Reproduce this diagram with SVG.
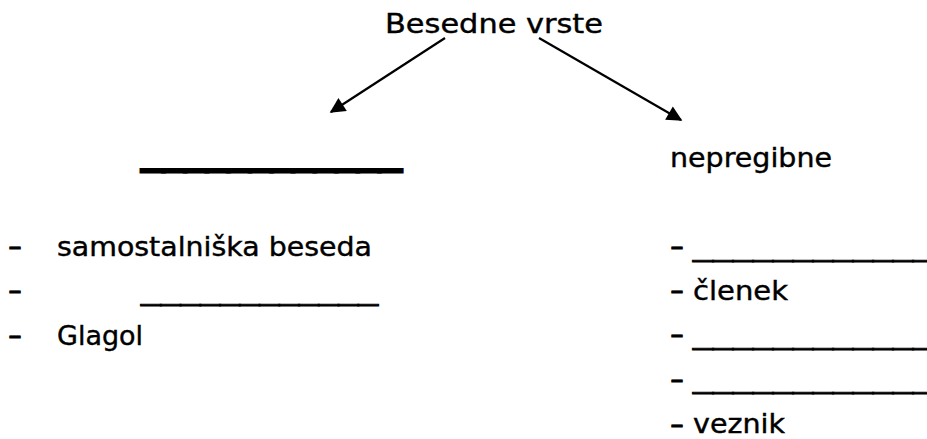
<svg xmlns="http://www.w3.org/2000/svg" width="927" height="439" viewBox="0 0 927 439">
<style>
  text { font-family: "DejaVu Sans", "Liberation Sans", sans-serif; font-size: 26px; fill: #000; stroke: #000; stroke-width: 0.4px; }
  .dash { stroke-width: 0.9px; }
  .blank { stroke-width: 0.9px; }
  .thick { font-weight: bold; stroke-width: 3px; }
  .conn { stroke: #000; stroke-width: 2.2; fill: none; marker-end: url(#ah); }
</style>
<defs>
  <marker id="ah" viewBox="0 0 10 10" refX="9" refY="5" markerWidth="8.5" markerHeight="7" markerUnits="strokeWidth" orient="auto">
    <path d="M0,0 L10,5 L0,10 z" fill="#000"/>
  </marker>
</defs>
<rect width="927" height="439" fill="#fff"/>
<g id="root">
  <text x="385" y="33" textLength="218" lengthAdjust="spacingAndGlyphs">Besedne vrste</text>
</g>
<g id="connectors">
  <line class="conn" x1="445" y1="38" x2="331" y2="112"/>
  <line class="conn" x1="539" y1="38" x2="681" y2="120"/>
</g>
<g id="pregibne">
  <text class="thick" x="142" y="166" textLength="259" lengthAdjust="spacingAndGlyphs">____________</text>
  <text class="dash" x="8" y="255" textLength="14" lengthAdjust="spacingAndGlyphs">-</text>
  <text x="57" y="256" textLength="315" lengthAdjust="spacingAndGlyphs">samostalniška beseda</text>
  <text class="dash" x="8" y="299" textLength="14" lengthAdjust="spacingAndGlyphs">-</text>
  <text class="blank" x="141" y="300" textLength="237" lengthAdjust="spacingAndGlyphs">____________</text>
  <text class="dash" x="8" y="344" textLength="14" lengthAdjust="spacingAndGlyphs">-</text>
  <text x="57" y="345" textLength="86" lengthAdjust="spacingAndGlyphs">Glagol</text>
</g>
<g id="nepregibne">
  <text x="670" y="167" textLength="162" lengthAdjust="spacingAndGlyphs">nepregibne</text>
  <text class="dash" x="670" y="255" textLength="14" lengthAdjust="spacingAndGlyphs">-</text>
  <text class="blank" x="693" y="256" textLength="240" lengthAdjust="spacingAndGlyphs">____________</text>
  <text class="dash" x="670" y="299" textLength="14" lengthAdjust="spacingAndGlyphs">-</text>
  <text x="693" y="300" textLength="95" lengthAdjust="spacingAndGlyphs">členek</text>
  <text class="dash" x="670" y="343" textLength="14" lengthAdjust="spacingAndGlyphs">-</text>
  <text class="blank" x="693" y="344" textLength="240" lengthAdjust="spacingAndGlyphs">____________</text>
  <text class="dash" x="670" y="388" textLength="14" lengthAdjust="spacingAndGlyphs">-</text>
  <text class="blank" x="693" y="388" textLength="240" lengthAdjust="spacingAndGlyphs">____________</text>
  <text class="dash" x="670" y="433" textLength="14" lengthAdjust="spacingAndGlyphs">-</text>
  <text x="693" y="433" textLength="92" lengthAdjust="spacingAndGlyphs">veznik</text>
</g>
</svg>
